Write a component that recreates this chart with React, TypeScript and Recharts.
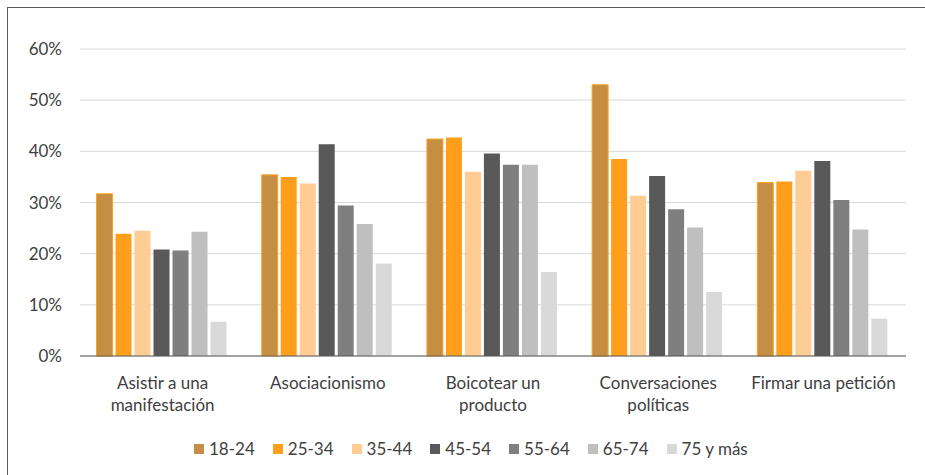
import { Bar, BarChart, CartesianGrid, XAxis, YAxis } from 'recharts';

const categories = [
  'Asistir a una\nmanifestación',
  'Asociacionismo',
  'Boicotear un\nproducto',
  'Conversaciones\npolíticas',
  'Firmar una petición',
];

const ageGroups = ['18-24', '25-34', '35-44', '45-54', '55-64', '65-74', '75 y más'];

const v18_24 = [31.7, 35.4, 42.4, 53.0, 33.9];
const v25_34 = [23.9, 35.0, 42.7, 38.5, 34.1];
const v35_44 = [24.5, 33.7, 36.0, 31.3, 36.2];
const v45_54 = [20.8, 41.4, 39.6, 35.2, 38.1];
const v55_64 = [20.6, 29.4, 37.4, 28.7, 30.5];
const v65_74 = [24.3, 25.8, 37.4, 25.1, 24.7];
const v75 = [6.7, 18.1, 16.4, 12.5, 7.3];

const yTicks = [0, 10, 20, 30, 40, 50, 60];

const seriesValues = [v18_24, v25_34, v35_44, v45_54, v55_64, v65_74, v75];
const fills = ['#C48E45', '#FF9E1B', '#FFCC93', '#595959', '#7F7F7F', '#BFBFBF', '#D9D9D9'];
const strokes = ['#FFA21F', 'none', 'none', 'none', 'none', 'none', 'none'];

const data = categories.map((name, i) => {
  const row: Record<string, string | number> = { name };
  ageGroups.forEach((g, j) => {
    row[g] = seriesValues[j][i];
  });
  return row;
});

const font = 'Lato, "Open Sans", sans-serif';
const textColor = '#404040';

function CategoryTick({ x, y, payload }: any) {
  const lines = String(payload.value).split('\n');
  return (
    <text x={x} y={y} textAnchor="middle" fill={textColor} fontSize={17} fontFamily={font}>
      {lines.map((l, i) => (
        <tspan key={i} x={x} dy={i === 0 ? 25 : 21.5}>
          {l}
        </tspan>
      ))}
    </text>
  );
}

export default function App() {
  return (
    <div style={{ position: 'absolute', left: 0, top: 0, width: 925, height: 475, background: '#fff', fontFamily: font }}>
      <div
        style={{
          position: 'absolute',
          left: 7,
          top: 7,
          width: 930,
          height: 480,
          borderLeft: '1px solid #595959',
          borderTop: '1px solid #595959',
        }}
      />
      <div style={{ position: 'absolute', left: 0, top: 0 }}>
        <BarChart
          width={925}
          height={475}
          data={data}
          margin={{ top: 49, right: 19, bottom: 59, left: 0 }}
          barCategoryGap="10%"
          barGap={3}
        >
          <CartesianGrid vertical={false} stroke="#D9D9D9" />
          <XAxis
            dataKey="name"
            tick={<CategoryTick />}
            tickLine={false}
            axisLine={{ stroke: '#595959' }}
            height={60}
            interval={0}
          />
          <YAxis
            domain={[0, 60]}
            ticks={yTicks}
            width={80}
            axisLine={false}
            tickLine={false}
            tickMargin={12}
            tickFormatter={(v) => `${v}%`}
            tick={{ fill: textColor, fontSize: 17, fontFamily: font }}
          />
          {ageGroups.map((g, j) => (
            <Bar
              key={g}
              dataKey={g}
              fill={fills[j]}
              stroke={strokes[j]}
              strokeWidth={1}
              isAnimationActive={false}
            />
          ))}
        </BarChart>
      </div>
      <div
        style={{
          position: 'absolute',
          left: 194,
          top: 438,
          display: 'flex',
          alignItems: 'center',
          fontSize: 17,
          color: textColor,
          whiteSpace: 'nowrap',
        }}
      >
        {ageGroups.map((g, j) => (
          <div key={g} style={{ display: 'flex', alignItems: 'center', marginRight: 18 }}>
            <span style={{ display: 'inline-block', width: 10, height: 10, background: fills[j], marginRight: 5 }} />
            <span>{g}</span>
          </div>
        ))}
      </div>
    </div>
  );
}
